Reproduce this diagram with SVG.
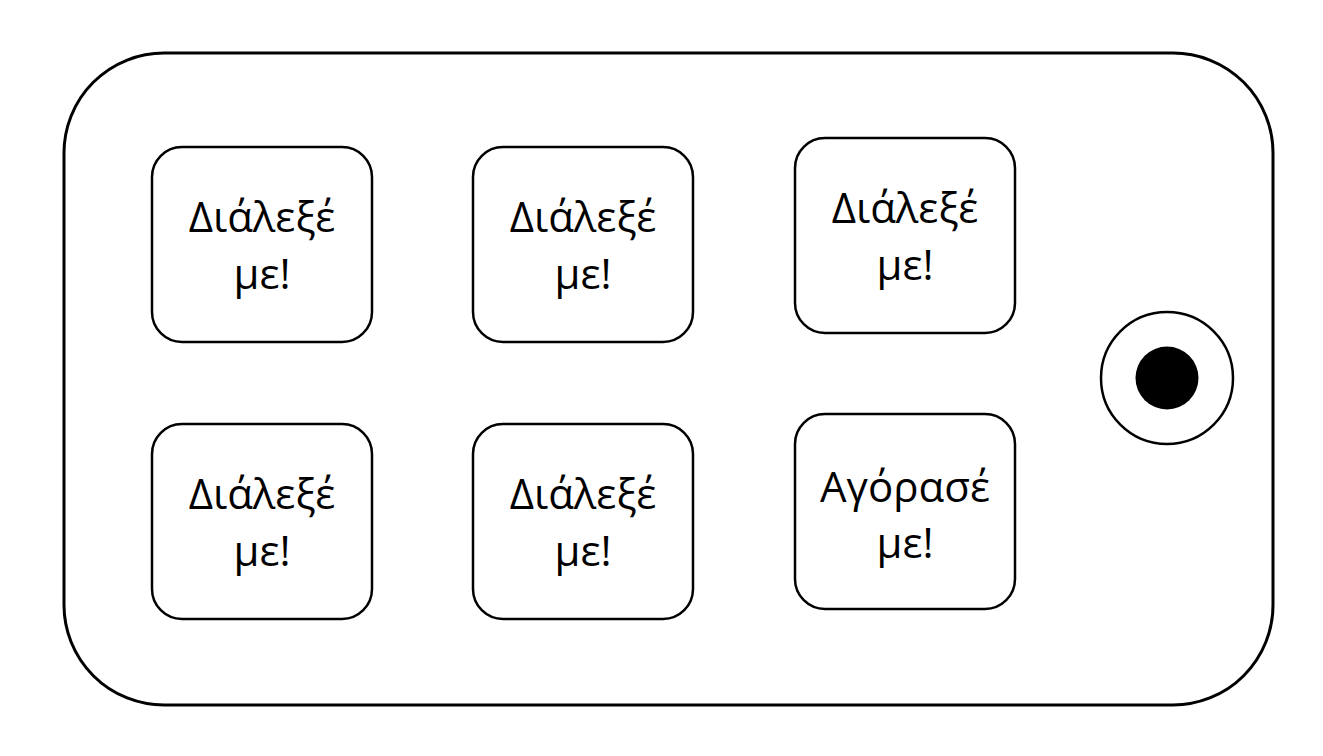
<svg xmlns="http://www.w3.org/2000/svg" width="1323" height="756" viewBox="0 0 1323 756">
<style>
.b{fill:#fff;stroke:#000;stroke-width:2.5}
.t{font-family:"Open Sans","Noto Sans",sans-serif;font-size:42px;fill:#000;text-anchor:middle}
</style>
<rect width="1323" height="756" fill="#fff"/>
<g id="device">
<rect x="64" y="53" width="1209" height="652" rx="100" ry="100" fill="#fff" stroke="#000" stroke-width="3"/>
</g>
<g id="btn1"><rect class="b" x="152" y="147" width="220" height="195" rx="30"/><text class="t" x="262" y="232">Διάλεξέ</text><text class="t" x="262" y="289">με!</text></g>
<g id="btn2"><rect class="b" x="473" y="147" width="220" height="195" rx="30"/><text class="t" x="583" y="232">Διάλεξέ</text><text class="t" x="583" y="289">με!</text></g>
<g id="btn3"><rect class="b" x="795" y="138" width="220" height="195" rx="30"/><text class="t" x="905" y="223">Διάλεξέ</text><text class="t" x="905" y="280">με!</text></g>
<g id="btn4"><rect class="b" x="152" y="424" width="220" height="195" rx="30"/><text class="t" x="262" y="509">Διάλεξέ</text><text class="t" x="262" y="566">με!</text></g>
<g id="btn5"><rect class="b" x="473" y="424" width="220" height="195" rx="30"/><text class="t" x="583" y="509">Διάλεξέ</text><text class="t" x="583" y="566">με!</text></g>
<g id="btn6"><rect class="b" x="795" y="414" width="220" height="195" rx="30"/><text class="t" x="905" y="502">Αγόρασέ</text><text class="t" x="905" y="558">με!</text></g>
<g id="knob">
<circle cx="1167" cy="378" r="66" fill="#fff" stroke="#000" stroke-width="2.5"/>
<circle cx="1167" cy="378" r="31.5" fill="#000"/>
</g>
<g id="connectors"/>
</svg>
